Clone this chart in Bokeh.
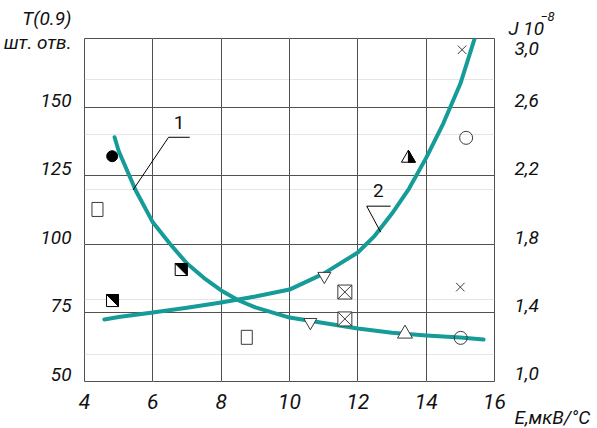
from bokeh.plotting import figure
from bokeh.models import (Range1d, LinearAxis, FixedTicker, CustomJSTickFormatter,
                          Grid, Label)
from bokeh.embed import file_html
from bokeh.resources import INLINE

# ---- data ----
X_TICKS = [4, 6, 8, 10, 12, 14, 16]
X_LABELS = ["4", "6", "8", "10", "12", "14", "16"]
T_TICKS = [50, 75, 100, 125, 150]
T_LABELS = ["50", "75", "100", "125", "150"]
J_TICKS = [1.0, 1.4, 1.8, 2.2, 2.6, 3.0]
J_LABELS = ["1,0", "1,4", "1,8", "2,2", "2,6", "3,0"]
T_TITLE = ["T(0.9)", "шт. отв."]
J_TITLE = ["J 10", "−8"]
X_TITLE = "E,мкВ/°С"

# curve 1: T(0.9), left axis
c1_x = [4.88, 5.0, 5.5, 6.0, 6.5, 7.0, 7.5, 8.0, 8.5, 9.0, 10.0, 11.0, 12.0, 13.0, 14.0, 15.0, 15.68]
c1_t = [139, 134, 119.6, 108, 100.2, 93, 87.7, 83.2, 79.6, 77, 73.3, 71.3, 69.3, 67.8, 66.8, 66, 65.3]

# curve 2: J, right axis
c2_x = [4.58, 5, 6, 7, 8, 9, 10, 11, 12, 12.5, 13, 13.5, 14, 14.5, 15, 15.42]
c2_j = [1.362, 1.376, 1.402, 1.430, 1.461, 1.496, 1.536, 1.629, 1.752, 1.851,
        1.979, 2.125, 2.304, 2.504, 2.736, 3.0]

# experimental points (left axis units)
dot_x, dot_t = [4.81], [132.1]
sq_x, sq_t = [4.38, 8.75], [112.7, 66.1]
hsq_x, hsq_t = [4.82, 6.83], [79.5, 90.8]
itri_x, itri_t = [11.02, 10.61], [88.4, 71.6]
sqx_x, sqx_t = [11.62, 11.62], [82.6, 72.8]
tri_x, tri_t = [13.38], [67.4]
htri_x, htri_t = [13.48], [132.1]
circ_x, circ_t = [15.01, 15.17], [65.9, 138.8]
cross_x, cross_t = [15.0, 15.05], [84.4, 170.9]

T_MIN, T_MAX = 50, 175
X_MIN, X_MAX = 4, 16
J_MIN, J_MAX = 1.0, 3.0

FONT = "Roboto"
TEAL = "#169c98"
INK = "#3a3a3a"
GRID = "#505050"

W, H = 597, 428
BL, BR, BT, BB = 83, 103, 38, 47
FW, FH = W - BL - BR, H - BT - BB
PX_X = FW / (X_MAX - X_MIN)      # pixels per x unit
PX_T = FH / (T_MAX - T_MIN)      # pixels per T unit
PX_J = FH / (J_MAX - J_MIN)      # pixels per J unit

p = figure(width=W, height=H, x_range=Range1d(X_MIN, X_MAX), y_range=Range1d(T_MIN, T_MAX),
           x_axis_location=None, y_axis_location=None,
           output_backend="svg", toolbar_location=None,
           min_border_left=BL, min_border_right=BR, min_border_top=BT, min_border_bottom=BB)
p.extra_y_ranges = {"J": Range1d(J_MIN, J_MAX)}
p.background_fill_color = "white"
p.border_fill_color = "white"
p.outline_line_color = GRID
p.outline_line_width = 1

p.add_layout(Grid(dimension=0, ticker=FixedTicker(ticks=X_TICKS), grid_line_color=GRID))
p.add_layout(Grid(dimension=1, ticker=FixedTicker(ticks=T_TICKS), grid_line_color=GRID))


def styled_axis(axis, size):
    axis.axis_line_color = None
    axis.major_tick_line_color = None
    axis.minor_tick_line_color = None
    axis.major_tick_in = 0
    axis.major_tick_out = 0
    axis.major_label_text_font = FONT
    axis.major_label_text_font_style = "italic"
    axis.major_label_text_font_size = f"{size}px"
    axis.major_label_text_color = "#111111"
    return axis


def label_formatter(labels):
    return CustomJSTickFormatter(args=dict(labels=labels), code="return labels[index];")


# left axis: tick labels sit ~7px above their grid lines; the two-line
# axis title is carried by an extra tick just under the top edge
t_pos = [t + 7 / PX_T for t in T_TICKS] + [T_MAX - 16.5 / PX_T]
t_text = T_LABELS + ["\n".join(T_TITLE) + "\n\n"]
left = LinearAxis(ticker=FixedTicker(ticks=t_pos), formatter=label_formatter(t_text))
styled_axis(left, 19)
left.major_label_standoff = 13
left.major_label_text_line_height = 1.05
p.add_layout(left, "left")

# right axis: J scale; the x-axis unit is written under the "1,0" label
j_pos = [j + 7 / PX_J for j in J_TICKS[:-1]] + [J_TICKS[-1] - 10 / PX_J]
j_text = ["\n\n" + J_LABELS[0] + "\n\n" + X_TITLE] + J_LABELS[1:]
right = LinearAxis(y_range_name="J", ticker=FixedTicker(ticks=j_pos), formatter=label_formatter(j_text))
styled_axis(right, 19)
right.major_label_standoff = 20
right.major_label_text_line_height = 0.94
p.add_layout(right, "right")

bottom = LinearAxis(ticker=FixedTicker(ticks=X_TICKS), formatter=label_formatter(X_LABELS))
styled_axis(bottom, 21)
bottom.major_label_standoff = 12
p.add_layout(bottom, "below")

# curves
p.line(c1_x, c1_t, line_color=TEAL, line_width=4, line_cap="round", line_join="round")
p.line(c2_x, c2_j, y_range_name="J", line_color=TEAL, line_width=4, line_cap="round", line_join="round")

# markers
dx_px = 1 / PX_X
dt_px = 1 / PX_T

p.scatter(dot_x, dot_t, marker="circle", size=11, fill_color="black", line_color="black")
p.rect(sq_x, sq_t, width=11, height=14, width_units="screen", height_units="screen",
       fill_color="white", line_color=INK, line_width=1)

# half-filled squares: black upper-right triangle
p.rect(hsq_x, hsq_t, width=12, height=12, width_units="screen", height_units="screen",
       fill_color="white", line_color="black", line_width=1)
hs = 6
p.patches([[x - hs * dx_px, x + hs * dx_px, x + hs * dx_px] for x in hsq_x],
          [[t + hs * dt_px, t + hs * dt_px, t - hs * dt_px] for t in hsq_t],
          fill_color="black", line_color="black", line_width=1)

p.scatter(itri_x, itri_t, marker="inverted_triangle", size=13, fill_color="white",
          line_color=INK, line_width=1)
p.scatter(sqx_x, sqx_t, marker="square_x", size=14, fill_color="white",
          line_color=INK, line_width=1)
p.scatter(tri_x, tri_t, marker="triangle", size=15, fill_color="white",
          line_color=INK, line_width=1)

# half-filled triangle: right half black
th, tw = 6, 7
p.patches([[x - tw * dx_px, x, x + tw * dx_px] for x in htri_x],
          [[t - th * dt_px, t + th * dt_px, t - th * dt_px] for t in htri_t],
          fill_color="white", line_color="black", line_width=1)
p.patches([[x, x + tw * dx_px, x] for x in htri_x],
          [[t + th * dt_px, t - th * dt_px, t - th * dt_px] for t in htri_t],
          fill_color="black", line_color="black", line_width=1)

p.scatter(circ_x, circ_t, marker="circle", size=13, fill_color=None, line_color=INK, line_width=1)
p.scatter(cross_x, cross_t, marker="x", size=12, line_color=INK, line_width=1)

# leader lines and curve numbers
p.line([7.08, 6.46, 5.42], [139.0, 139.0, 119.8], line_color="black", line_width=1)
p.line([12.96, 12.26, 12.67], [113.9, 113.9, 104.4], line_color="black", line_width=1)
for txt, x, t in [("1", 6.77, 144.4), ("2", 12.60, 119.6)]:
    p.add_layout(Label(x=x, y=t, text=txt, text_font=FONT, text_font_size="19px",
                       text_align="center", text_baseline="middle", text_color="#111111"))


# J axis title above the right axis (side-panel labels are not clipped)
def above_text(txt, px_x, px_y, size):
    x = X_MIN + (px_x - BL) / PX_X
    t = T_MAX - (px_y - BT) / PX_T
    p.add_layout(Label(x=x, y=t, text=txt, text_font=FONT, text_font_style="italic",
                       text_font_size=f"{size}px", text_align="left",
                       text_baseline="alphabetic", text_color="#111111"), "above")


above_text(J_TITLE[0], 508, 28, 19)
above_text(J_TITLE[1], 540, 16, 13)

open("out.html", "w").write(file_html(p, INLINE))
